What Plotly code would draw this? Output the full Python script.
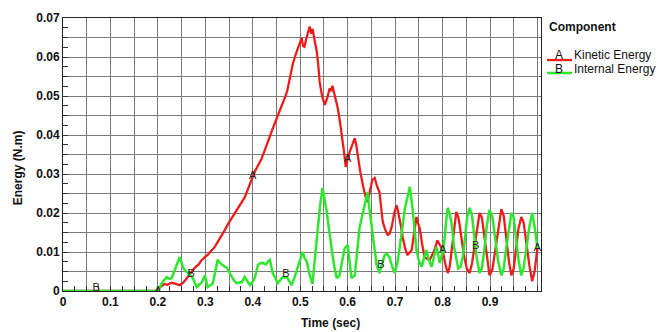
import numpy as np
import plotly.graph_objects as go

# Kinetic energy (component A)
t_ke = [0, 0.2, 0.203, 0.208, 0.214, 0.22, 0.229, 0.236, 0.246, 0.254,
        0.263, 0.27, 0.278, 0.286, 0.292, 0.299, 0.306, 0.313, 0.32, 0.327,
        0.334, 0.341, 0.348, 0.355, 0.362, 0.369, 0.376, 0.383, 0.39, 0.397,
        0.404, 0.411, 0.418, 0.425, 0.432, 0.44, 0.448, 0.457, 0.464, 0.472,
        0.478, 0.484, 0.49, 0.497, 0.503, 0.506, 0.509, 0.513, 0.517, 0.52,
        0.523, 0.526, 0.53, 0.535, 0.538, 0.541, 0.546, 0.552, 0.557, 0.562,
        0.565, 0.568, 0.572, 0.579, 0.583, 0.587, 0.592, 0.596, 0.6, 0.604,
        0.609, 0.615, 0.618, 0.621, 0.626, 0.632, 0.637, 0.642, 0.647, 0.652,
        0.657, 0.662, 0.667, 0.671, 0.674, 0.679, 0.684, 0.688, 0.693, 0.698,
        0.703, 0.706, 0.709, 0.713, 0.716, 0.721, 0.726, 0.731, 0.735, 0.74,
        0.745, 0.748, 0.752, 0.757, 0.762, 0.768, 0.773, 0.778, 0.783, 0.789,
        0.794, 0.8, 0.806, 0.811, 0.815, 0.819, 0.824, 0.829, 0.833, 0.836,
        0.841, 0.846, 0.851, 0.857, 0.862, 0.867, 0.872, 0.878, 0.883, 0.888,
        0.893, 0.899, 0.905, 0.911, 0.917, 0.924, 0.929, 0.934, 0.94, 0.945,
        0.95, 0.955, 0.96, 0.966, 0.971, 0.977, 0.983, 0.989, 0.994, 1.0]
ke = [0, 0, 0.0008, 0.0012, 0.0018, 0.0016, 0.0021, 0.0019, 0.0015, 0.0022,
      0.0036, 0.0048, 0.006, 0.0068, 0.0079, 0.0087, 0.0094, 0.0104, 0.0113, 0.0128,
      0.0141, 0.0156, 0.0172, 0.0185, 0.020, 0.0214, 0.0226, 0.024, 0.0262, 0.0285,
      0.0305, 0.0322, 0.0338, 0.036, 0.0385, 0.041, 0.0435, 0.0464, 0.0488, 0.051,
      0.0545, 0.058, 0.0605, 0.063, 0.0649, 0.0628, 0.0626, 0.0648, 0.0668, 0.0678,
      0.066, 0.0672, 0.0645, 0.0613, 0.058, 0.0536, 0.050, 0.0477, 0.0495, 0.052,
      0.0512, 0.0526, 0.0505, 0.047, 0.044, 0.0408, 0.036, 0.0318, 0.0338, 0.0356,
      0.0372, 0.0392, 0.0375, 0.0349, 0.031, 0.0272, 0.0245, 0.0228, 0.026, 0.0285,
      0.029, 0.0268, 0.0254, 0.021, 0.0177, 0.0158, 0.0144, 0.0146, 0.0165, 0.0198,
      0.022, 0.0205, 0.019, 0.0162, 0.0138, 0.011, 0.0092, 0.0098, 0.0105, 0.0148,
      0.019, 0.0175, 0.016, 0.012, 0.0087, 0.0082, 0.008, 0.0092, 0.0105, 0.013,
      0.0118, 0.0105, 0.0068, 0.0046, 0.0062, 0.0105, 0.016, 0.0203, 0.019, 0.017,
      0.0125, 0.0085, 0.0058, 0.0046, 0.007, 0.0115, 0.016, 0.020, 0.0188, 0.014,
      0.0085, 0.004, 0.0055, 0.0105, 0.0165, 0.021, 0.0192, 0.0135, 0.0075, 0.004,
      0.0058, 0.0108, 0.016, 0.019, 0.0175, 0.012, 0.0065, 0.0025, 0.005, 0.011]

# Internal energy (component B)
t_ie = [0, 0.2, 0.204, 0.208, 0.213, 0.219, 0.224, 0.229, 0.235, 0.24,
        0.246, 0.25, 0.253, 0.258, 0.263, 0.268, 0.274, 0.278, 0.282, 0.287,
        0.293, 0.299, 0.302, 0.305, 0.31, 0.316, 0.321, 0.326, 0.331, 0.335,
        0.34, 0.345, 0.35, 0.356, 0.361, 0.366, 0.372, 0.377, 0.383, 0.388,
        0.394, 0.399, 0.404, 0.411, 0.416, 0.421, 0.428, 0.432, 0.436, 0.442,
        0.448, 0.453, 0.458, 0.463, 0.468, 0.472, 0.477, 0.482, 0.488, 0.495,
        0.5, 0.505, 0.509, 0.514, 0.52, 0.526, 0.531, 0.537, 0.542, 0.547,
        0.551, 0.556, 0.561, 0.566, 0.571, 0.577, 0.583, 0.588, 0.594, 0.6,
        0.604, 0.608, 0.615, 0.62, 0.625, 0.631, 0.636, 0.642, 0.646, 0.651,
        0.656, 0.661, 0.667, 0.672, 0.678, 0.683, 0.688, 0.694, 0.699, 0.705,
        0.71, 0.714, 0.72, 0.726, 0.731, 0.737, 0.741, 0.745, 0.75, 0.756,
        0.761, 0.766, 0.771, 0.777, 0.782, 0.787, 0.791, 0.794, 0.8, 0.804,
        0.808, 0.811, 0.815, 0.819, 0.824, 0.829, 0.833, 0.838, 0.843, 0.848,
        0.852, 0.857, 0.862, 0.867, 0.872, 0.878, 0.883, 0.888, 0.893, 0.899,
        0.905, 0.911, 0.917, 0.924, 0.929, 0.934, 0.94, 0.945, 0.95, 0.955,
        0.96, 0.966, 0.971, 0.977, 0.983, 0.989, 0.994, 1.0]
ie = [0, 0, 0.0008, 0.002, 0.0028, 0.0036, 0.0031, 0.0033, 0.0052, 0.0067,
      0.0087, 0.0072, 0.006, 0.0052, 0.0046, 0.0038, 0.0033, 0.002, 0.001, 0.0016,
      0.0023, 0.004, 0.0022, 0.001, 0.0014, 0.002, 0.005, 0.008, 0.0072, 0.0067,
      0.0063, 0.006, 0.0048, 0.0036, 0.0026, 0.002, 0.0022, 0.0023, 0.0036, 0.0025,
      0.0015, 0.0022, 0.0033, 0.0067, 0.0071, 0.0072, 0.0068, 0.0076, 0.008, 0.0046,
      0.003, 0.002, 0.0028, 0.0036, 0.0034, 0.0036, 0.0025, 0.0015, 0.0035, 0.006,
      0.0082, 0.010, 0.0085, 0.0075, 0.004, 0.0018, 0.0085, 0.0162, 0.022, 0.0264,
      0.0235, 0.0203, 0.0155, 0.011, 0.0068, 0.0033, 0.004, 0.0075, 0.011, 0.0118,
      0.0075, 0.0033, 0.004, 0.0098, 0.0162, 0.0195, 0.022, 0.0254, 0.021, 0.0162,
      0.0112, 0.0067, 0.0046, 0.0068, 0.0092, 0.0095, 0.0087, 0.0062, 0.0046, 0.0072,
      0.011, 0.015, 0.0208, 0.024, 0.0267, 0.0208, 0.015, 0.0105, 0.0078, 0.0062,
      0.0085, 0.0105, 0.008, 0.0062, 0.0088, 0.0113, 0.0092, 0.0072, 0.0098, 0.013,
      0.0185, 0.0213, 0.0198, 0.0174, 0.0115, 0.008, 0.0058, 0.0062, 0.009, 0.0145,
      0.019, 0.0213, 0.0195, 0.014, 0.0085, 0.0046, 0.0058, 0.0105, 0.0165, 0.0208,
      0.019, 0.0135, 0.0078, 0.004, 0.0058, 0.0108, 0.016, 0.020, 0.0188, 0.0138,
      0.008, 0.004, 0.006, 0.0112, 0.0165, 0.020, 0.0165, 0.011]

# Axis ticks
x_ticks = [round(0.05 * i, 2) for i in range(21)]
x_labels = ["0", "", "0.1", "", "0.2", "", "0.3", "", "0.4", "", "0.5",
            "", "0.6", "", "0.7", "", "0.8", "", "0.9", "", ""]
y_ticks = [round(0.005 * i, 3) for i in range(15)]
y_labels = ["0", "", "0.01", "", "0.02", "", "0.03", "", "0.04", "", "0.05",
            "", "0.06", "", "0.07"]

# Curve identifier letters
label_a_x = [0.2, 0.4, 0.6, 0.8, 1.0]
label_b_x = [0.07, 0.27, 0.47, 0.67, 0.87]

RED = "#ee1c1c"
GREEN = "#2fe62f"
FONT = "Liberation Sans, Arial, sans-serif"

fig = go.Figure()
fig.add_trace(go.Scatter(x=t_ke, y=ke, mode="lines", name="Kinetic Energy",
                         line=dict(color=RED, width=2.3), showlegend=False))
fig.add_trace(go.Scatter(x=t_ie, y=ie, mode="lines", name="Internal Energy",
                         line=dict(color=GREEN, width=2.5), showlegend=False))

fig.add_trace(go.Scatter(x=label_a_x, y=np.interp(label_a_x, t_ke, ke), mode="text",
                         text=["A"] * len(label_a_x), showlegend=False,
                         textfont=dict(family=FONT, size=11, color="#222")))
fig.add_trace(go.Scatter(x=label_b_x, y=np.interp(label_b_x, t_ie, ie) + 0.0007,
                         mode="text", text=["B"] * len(label_b_x), showlegend=False,
                         textfont=dict(family=FONT, size=11, color="#222")))

axis_common = dict(showgrid=True, gridcolor="#7a7a7a", gridwidth=1,
                   showline=True, linecolor="#222", linewidth=1, mirror=True,
                   ticks="inside", ticklen=5, tickcolor="#333",
                   tickfont=dict(family=FONT, size=12, color="#111", weight="bold"),
                   zeroline=False)

fig.update_xaxes(range=[0, 1.0075], tickmode="array", tickvals=x_ticks, ticktext=x_labels,
                 minor=dict(tickmode="array",
                            tickvals=[round(0.025 * i, 3) for i in range(41)],
                            ticks="inside", ticklen=5, tickcolor="#333", showgrid=False),
                 **axis_common)
fig.update_yaxes(range=[0, 0.07], tickmode="array", tickvals=y_ticks, ticktext=y_labels,
                 minor=dict(tickmode="array",
                            tickvals=[round(0.0025 * i, 4) for i in range(29)],
                            ticks="inside", ticklen=5, tickcolor="#333", showgrid=False),
                 **axis_common)


def note(text, x, y, xanchor="center", bold=False, angle=0):
    return dict(text=text, x=x, y=y, xref="paper", yref="paper",
                xanchor=xanchor, yanchor="middle", showarrow=False, textangle=angle,
                font=dict(family=FONT, size=12, color="#111",
                          weight="bold" if bold else "normal"))


annotations = [
    note("Time (sec)", 0.5586, -0.117, bold=True),
    note("Energy (N.m)", -0.094, 0.45, bold=True, angle=-90),
    note("Component", 1.0126, 0.967, xanchor="left", bold=True),
    note("A", 1.0377, 0.8645),
    note("Kinetic Energy", 1.0649, 0.8645, xanchor="left"),
    note("B", 1.0377, 0.813),
    note("Internal Energy", 1.0649, 0.813, xanchor="left"),
]

shapes = [
    dict(type="line", xref="paper", yref="paper", x0=1.0126, x1=1.0649,
         y0=0.846, y1=0.846, line=dict(color=RED, width=2.3)),
    dict(type="line", xref="paper", yref="paper", x0=1.0126, x1=1.0649,
         y0=0.7985, y1=0.7985, line=dict(color=GREEN, width=2.5)),
]

fig.update_layout(width=670, height=332,
                  margin=dict(l=63, r=129, t=18, b=41),
                  paper_bgcolor="white", plot_bgcolor="white",
                  annotations=annotations, shapes=shapes,
                  showlegend=False)

fig.write_html("out.html")
